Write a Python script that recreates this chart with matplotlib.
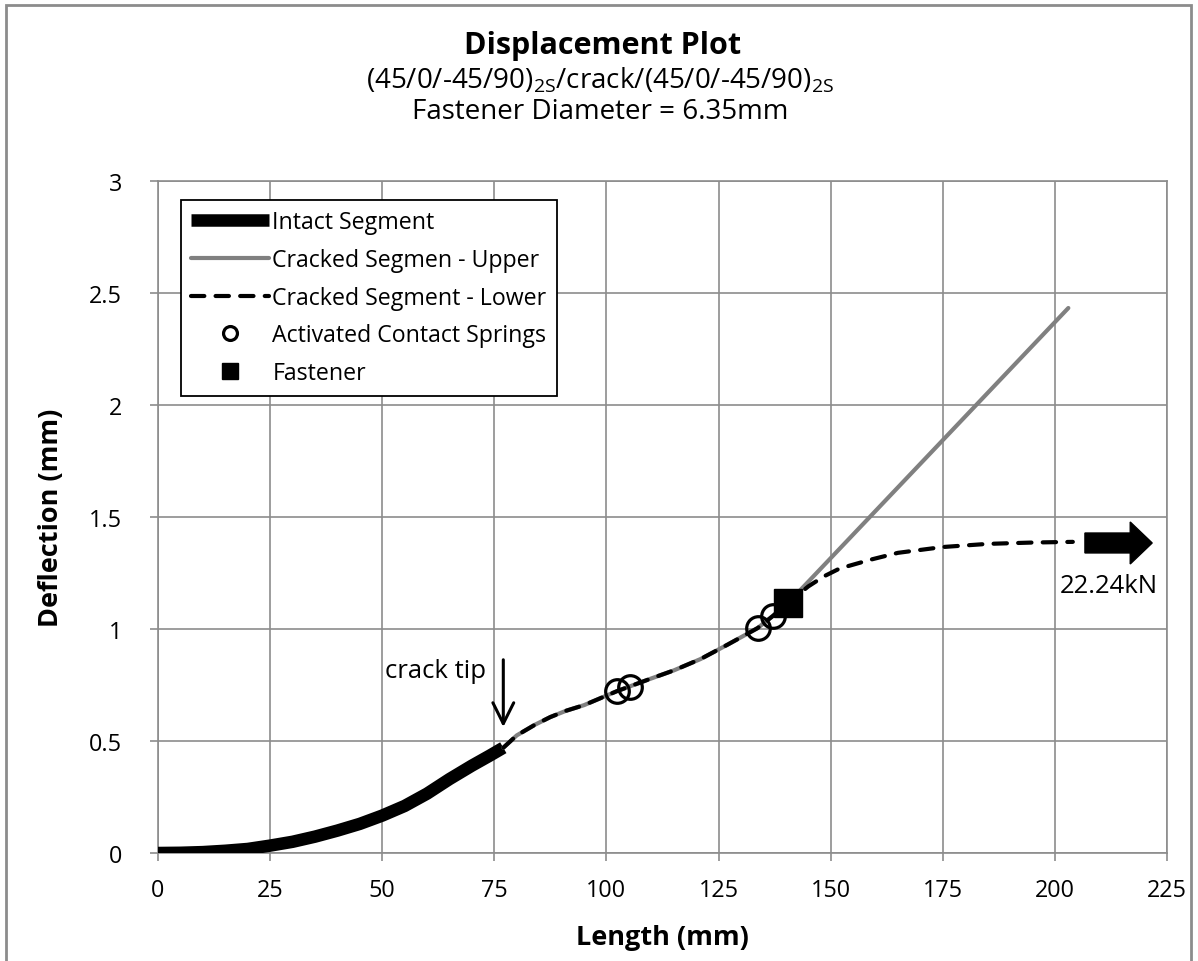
import matplotlib
matplotlib.use("Agg")
import matplotlib.pyplot as plt
from matplotlib.lines import Line2D
from matplotlib.patches import Rectangle, FancyArrow

plt.rcParams['font.family'] = ['Open Sans', 'DejaVu Sans']
plt.rcParams['mathtext.fontset'] = 'custom'
plt.rcParams['mathtext.rm'] = 'Open Sans'

# ---- data ----
intact_x = [0, 5, 10, 15, 20, 25, 30, 35, 40, 45, 50, 55, 60, 65, 70, 74, 77]
intact_y = [0, 0.001, 0.004, 0.010, 0.018, 0.033, 0.05, 0.073, 0.10, 0.13,
            0.167, 0.21, 0.265, 0.33, 0.39, 0.435, 0.47]

shared_x = [77, 80, 84, 87.5, 91, 95, 102.4, 109.7, 115, 121, 127, 133.7, 137.1, 140.5]
shared_y = [0.47, 0.525, 0.572, 0.607, 0.635, 0.66, 0.723, 0.777, 0.815, 0.866,
            0.93, 1.004, 1.058, 1.116]

upper_x = shared_x + [203]
upper_y = shared_y + [2.433]

lower_x = shared_x + [145, 148.5, 152, 159, 165, 175, 185, 195, 204]
lower_y = shared_y + [1.19, 1.235, 1.27, 1.31, 1.34, 1.366, 1.38, 1.386, 1.389]

springs_x = [102.4, 105.3, 133.7, 137.1]
springs_y = [0.723, 0.741, 1.004, 1.058]

fastener_x = [140.5]
fastener_y = [1.116]

x_ticks = [0, 25, 50, 75, 100, 125, 150, 175, 200, 225]
y_ticks = [0, 0.5, 1, 1.5, 2, 2.5, 3]
y_ticklabels = ['0', '0.5', '1', '1.5', '2', '2.5', '3']

load_label = '22.24kN'
load_y = 1.384

W, H = 1198, 962
fig = plt.figure(figsize=(W / 100, H / 100), dpi=100)
ax = fig.add_axes([158 / W, 1 - 854 / H, (1167 - 158) / W, (854 - 182) / H])

grid_c = '#8c8c8c'
ax.set_xlim(0, 225)
ax.set_ylim(0, 3)
ax.set_xticks(x_ticks)
ax.set_xticklabels([str(t) for t in x_ticks])
ax.set_yticks(y_ticks)
ax.set_yticklabels(y_ticklabels)
ax.grid(True, color=grid_c, lw=1.2)
ax.set_axisbelow(True)
for s in ax.spines.values():
    s.set_color(grid_c)
    s.set_linewidth(1.2)
ax.tick_params(axis='both', colors=grid_c, labelcolor='black', labelsize=16.8,
               length=6, width=1.2, direction='out')
ax.tick_params(axis='x', pad=12)
ax.tick_params(axis='y', pad=20)

# lines
ax.plot(intact_x, intact_y, color='black', lw=9, solid_capstyle='butt',
        solid_joinstyle='round', zorder=3)
ax.plot(upper_x, upper_y, color='#808080', lw=3.0, solid_capstyle='round', zorder=3)
ln, = ax.plot(lower_x, lower_y, color='black', lw=3.0, dash_capstyle='round', zorder=4)
ln.set_dashes((3.2, 2.7))
ax.plot(springs_x, springs_y, 'o', ms=17, mfc='none', mec='black', mew=2.3, zorder=5)
ax.plot(fastener_x, fastener_y, 's', ms=20, color='black', zorder=6)

# load arrow
ax.add_patch(FancyArrow(206.7, load_y, 15, 0, width=0.089, head_width=0.1875,
                        head_length=4.9, length_includes_head=True,
                        color='black', zorder=6, clip_on=False))
ax.text(212, 1.196, load_label, fontsize=18.5, ha='center', va='center')

# crack tip annotation
ax.annotate('', xy=(77.0, 0.55), xytext=(77.0, 0.875),
            arrowprops=dict(arrowstyle='->,head_length=1.5,head_width=0.75',
                            lw=2.2, color='black'))
ax.text(61.8, 0.8125, 'crack tip', fontsize=18.5, ha='center', va='center')

# labels
ax.set_xlabel('Length (mm)', fontsize=19.5, fontweight='bold', labelpad=16)
ax.set_ylabel('Deflection (mm)', fontsize=19.5, fontweight='bold', labelpad=18)

# titles
fig.text(0.503, 1 - 46 / H, 'Displacement Plot', fontsize=22, fontweight='bold',
         ha='center', va='center')
fig.text(0.501, 1 - 80 / H,
         r'(45/0/-45/90)$_{\mathregular{2S}}$/crack/(45/0/-45/90)$_{\mathregular{2S}}$',
         fontsize=20, ha='center', va='center')
fig.text(0.501, 1 - 112 / H, 'Fastener Diameter = 6.35mm', fontsize=20,
         ha='center', va='center')

# legend (proxy handles)
handles = [
    Line2D([], [], color='black', lw=9, solid_capstyle='butt'),
    Line2D([], [], color='#808080', lw=3.0, solid_capstyle='round'),
    Line2D([], [], color='black', lw=3.0, dashes=(3.2, 2.7), dash_capstyle='round'),
    Line2D([], [], ls='none', marker='o', ms=10, mfc='none', mec='black', mew=2.3),
    Line2D([], [], ls='none', marker='s', ms=12, color='black'),
]
labels = ['Intact Segment', 'Cracked Segmen - Upper', 'Cracked Segment - Lower',
          'Activated Contact Springs', 'Fastener']
leg = ax.legend(handles, labels, loc='upper left', bbox_to_anchor=(23 / 1009, 1 - 19 / 672),
                fontsize=16.7, frameon=True, fancybox=False, edgecolor='black',
                framealpha=1, handlelength=3.36, handletextpad=0.13, labelspacing=0.59,
                borderpad=0.45, borderaxespad=0)
leg.get_frame().set_linewidth(1.3)

# chart border
fig.patches.append(Rectangle((6 / W, -0.05), (1191 - 6) / W, 1 - 6 / H + 0.05,
                             transform=fig.transFigure, fill=False,
                             edgecolor='#8c8c8c', lw=2))

fig.savefig('out.png', dpi=100)
